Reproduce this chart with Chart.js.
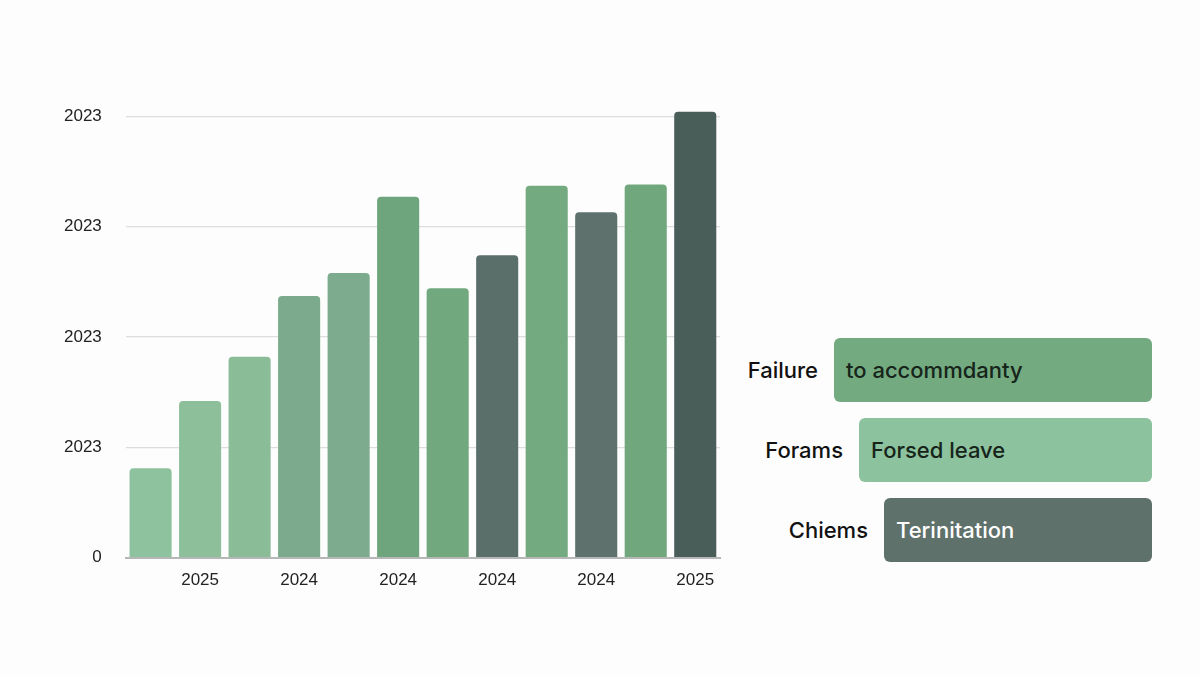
<!DOCTYPE html>
<html>
<head>
<meta charset="utf-8">
<script src="https://cdn.jsdelivr.net/npm/chart.js@4.4.1/dist/chart.umd.min.js"></script>
<style>
  html, body { margin: 0; padding: 0; background: #fdfdfd; }
  #wrap { position: relative; width: 1200px; height: 675px; background: #fdfdfd; }
  #barBox { position: absolute; left: 40px; top: 82px; width: 690px; height: 522px; }
  .lg-label { position: absolute; font-family: Inter, "Liberation Sans", sans-serif; font-size: 22px; font-weight: 500; color: #111; text-align: right; line-height: 64px; white-space: nowrap; }
  .lg-box { position: absolute; height: 64px; border-radius: 6px; font-family: Inter, "Liberation Sans", sans-serif; font-size: 22px; font-weight: 500; line-height: 64px; padding-left: 12px; box-sizing: border-box; white-space: nowrap; }
</style>
</head>
<body>
<div id="wrap">
  <div id="barBox"><canvas id="bars"></canvas></div>
  <div id="legend"></div>
</div>
<script>
// ---- data ----
const categories = ['c1','c2','c3','c4','c5','c6','c7','c8','c9','c10','c11','c12'];
const xTickLabels = ['', '2025', '', '2024', '', '2024', '', '2024', '', '2024', '', '2025'];
const values = [0.81, 1.42, 1.82, 2.37, 2.58, 3.27, 2.44, 2.74, 3.37, 3.13, 3.38, 4.04];
const barColors = ['#8ec19d','#8dbf9b','#8bbc98','#7bab8c','#7dab8e','#6fa57c','#72a87e','#5b6f6a','#74aa7f','#5e716c','#71a77c','#4a5e59'];
const yTickLabels = ['0', '2023', '2023', '2023', '2023'];
const legendLabels = ['Failure', 'Forams', 'Chiems'];
const legendTexts = ['to accommdanty', 'Forsed leave', 'Terinitation'];
const legendColors = ['#73aa80', '#8cc29e', '#5f716b'];
const legendTextColors = ['#16241a', '#16241a', '#ffffff'];

// ---- bar chart ----
new Chart(document.getElementById('bars'), {
  type: 'bar',
  data: {
    labels: categories,
    datasets: [{
      data: values,
      backgroundColor: barColors,
      borderRadius: { topLeft: 4, topRight: 4 },
      borderSkipped: 'bottom',
      categoryPercentage: 1.0,
      barPercentage: 0.85,
      clip: false
    }]
  },
  options: {
    responsive: true,
    maintainAspectRatio: false,
    animation: false,
    layout: { padding: { top: 10, right: 10 } },
    plugins: { legend: { display: false }, tooltip: { enabled: false } },
    scales: {
      x: {
        grid: { display: false, drawTicks: false },
        border: { color: '#b5b8b6', width: 2 },
        ticks: {
          color: '#222',
          font: { family: '"Liberation Sans", Arial, sans-serif', size: 17 },
          padding: 13,
          maxRotation: 0,
          autoSkip: false,
          callback: (v, i) => xTickLabels[i]
        }
      },
      y: {
        min: 0, max: 4,
        grid: { color: '#dcdedd', lineWidth: 1.2, drawTicks: false },
        border: { display: false },
        ticks: {
          stepSize: 1,
          color: '#222',
          font: { family: '"Liberation Sans", Arial, sans-serif', size: 17 },
          padding: 24,
          callback: (v) => yTickLabels[v]
        }
      }
    }
  }
});

// ---- legend panel ----
const lg = document.getElementById('legend');
const boxLefts = [834, 859, 884];
const rowTops = [338, 418, 498];
for (let i = 0; i < legendLabels.length; i++) {
  const lab = document.createElement('div');
  lab.className = 'lg-label';
  lab.textContent = legendLabels[i];
  lab.style.top = rowTops[i] + 'px';
  lab.style.right = (1200 - boxLefts[i] + 16) + 'px';
  lg.appendChild(lab);
  const box = document.createElement('div');
  box.className = 'lg-box';
  box.textContent = legendTexts[i];
  box.style.top = rowTops[i] + 'px';
  box.style.left = boxLefts[i] + 'px';
  box.style.width = (1152 - boxLefts[i]) + 'px';
  box.style.background = legendColors[i];
  box.style.color = legendTextColors[i];
  lg.appendChild(box);
}
</script>
</body>
</html>
